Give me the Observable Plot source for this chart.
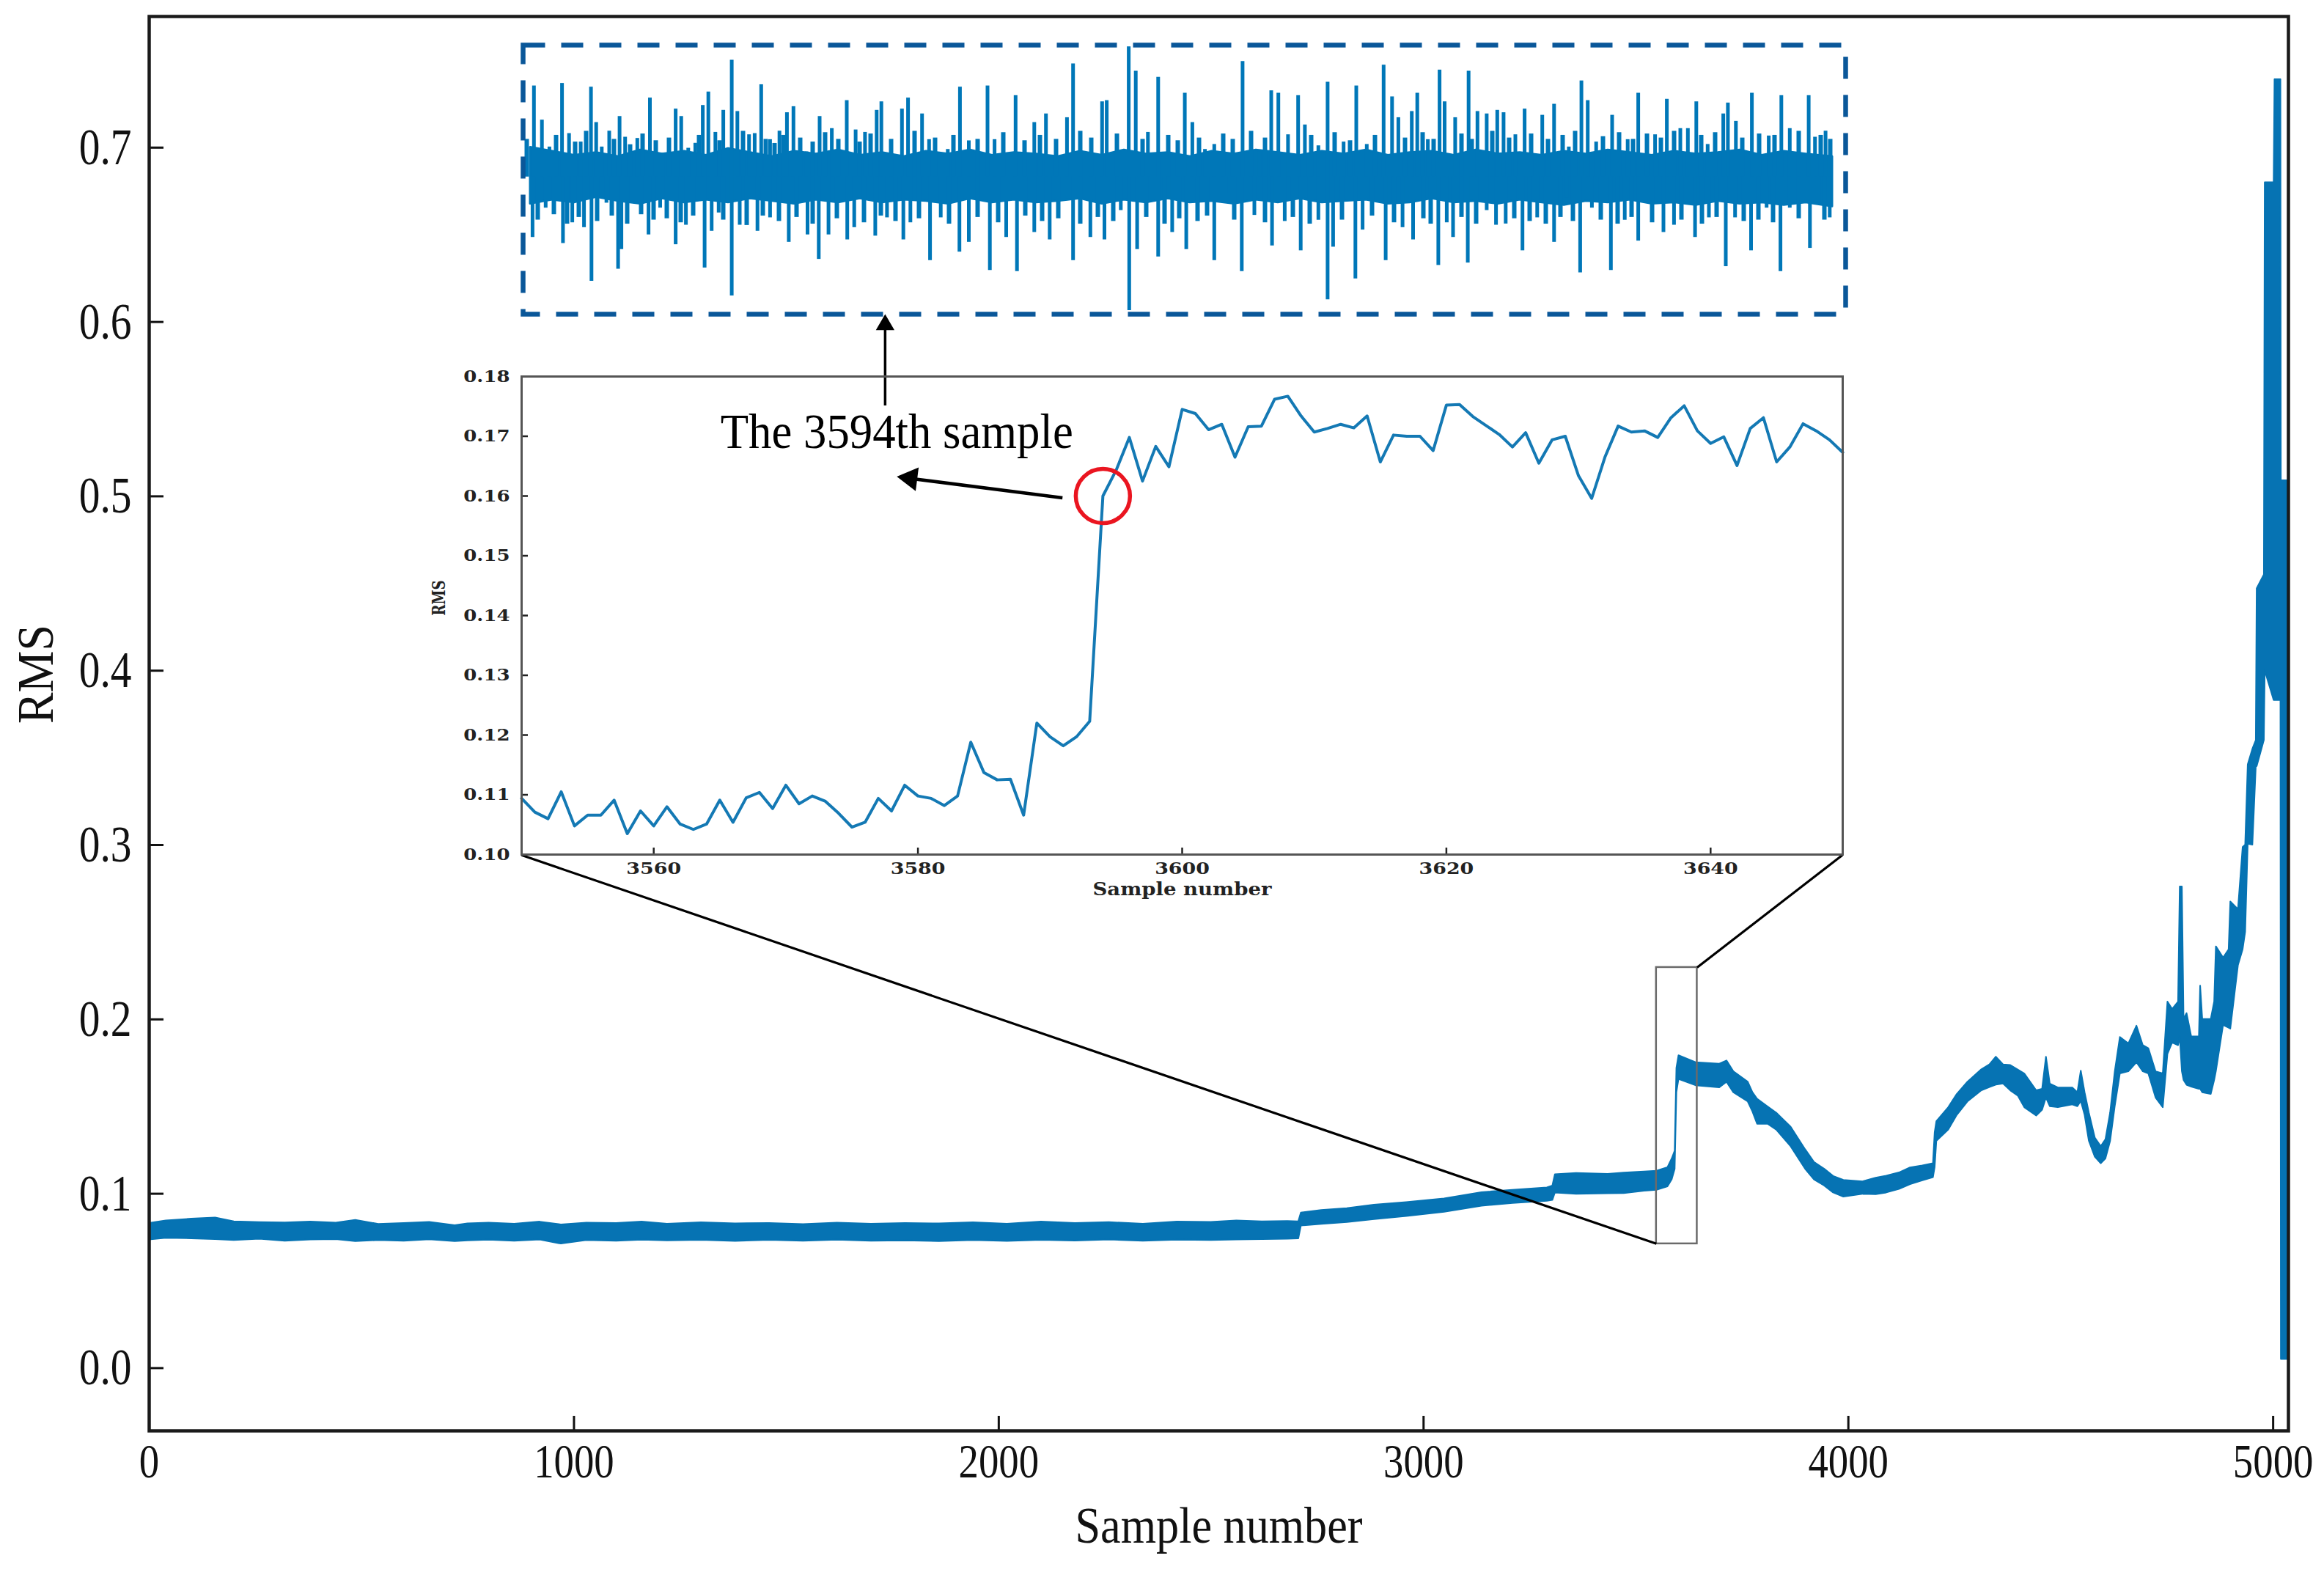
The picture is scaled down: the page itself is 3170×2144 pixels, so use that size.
<!DOCTYPE html>
<html><head><meta charset="utf-8">
<script src="https://cdn.jsdelivr.net/npm/d3@7"></script>
<script src="https://cdn.jsdelivr.net/npm/@observablehq/plot@0.6"></script>
<style>
html,body{margin:0;padding:0;background:#fff;}
#wrap{position:relative;width:3170px;height:2144px;overflow:hidden;background:#fff;}
</style></head><body><div id="wrap"></div>
<script>
// ---------------- DATA ----------------
// Main RMS curve: sample number, lower and upper edge of the plotted (noisy) trace
const sampleNo = [0,40,100,156,200,260,320,380,440,486,540,600,660,720,750,800,860,920,970,1030,1100,1160,1220,1300,1380,1460,1540,1620,1700,1780,1860,1940,2020,2100,2180,2260,2340,2420,2500,2560,2620,2680,2706,
 2712,2760,2820,2884,2960,3049,3137,3210,3291,3304,3310,3360,3434,3472,3520,3549,3575,3585,3592,3596,3601,3641,3697,3714,3730,3764,3775,3786,3810,3831,3865,3899,3920,3944,3965,3989,4034,4065,4090,4120,4146,4175,4200,4204,4208,4236,4256,4281,4314,4333,4348,4365,4382,4400,4415,4443,4457,4466,4475,4494,4528,4540,4548,4557,4567,4581,4595,4606,4617,4628,4640,4660,4679,4694,4707,4724,4741,4752,4763,4777,4781,4786,4790,4797,4808,4826,4829,4834,4854,4862,4866,4883,4896,4900,4918,4929,4935,4941,4952,4960,4962,4979,4981,5002,5004,5018,5019,5033];
const rmsLo = [0.0735,0.0745,0.0742,0.0738,0.0732,0.0740,0.0728,0.0735,0.0738,0.0726,0.0732,0.0728,0.0736,0.0726,0.0730,0.0734,0.0728,0.0735,0.0712,0.0732,0.0728,0.0734,0.0730,0.0733,0.0727,0.0733,0.0728,0.0734,0.0728,0.0730,0.0726,0.0732,0.0727,0.0733,0.0729,0.0735,0.0728,0.0734,0.0732,0.0735,0.0738,0.0740,0.0742,
 0.0815,0.0825,0.0835,0.0852,0.0870,0.0894,0.0929,0.0945,0.0957,0.0962,0.1005,0.0997,0.1000,0.1001,0.1015,0.1020,0.1040,0.1080,0.1140,0.1580,0.1656,0.1620,0.1608,0.1640,0.1580,0.1527,0.1470,0.1399,0.1400,0.1366,0.1270,0.1141,0.1080,0.1045,0.1005,0.0981,0.0997,0.0995,0.1005,0.1025,0.1053,0.1075,0.1093,0.1150,0.1301,0.1366,0.1450,0.1527,0.1591,0.1610,0.1624,0.1630,0.1591,0.1560,0.1494,0.1446,0.1480,0.1550,0.1500,0.1494,0.1510,0.1500,0.1530,0.1450,0.1301,0.1210,0.1173,0.1200,0.1300,0.1500,0.1688,0.1700,0.1752,0.1700,0.1688,0.1550,0.1494,0.1800,0.1865,0.1850,0.1900,0.1700,0.1650,0.1623,0.1612,0.1600,0.1600,0.1580,0.1570,0.1650,0.1700,0.1966,0.1950,0.1945,0.2309,0.2400,0.2500,0.3005,0.3000,0.3450,0.3450,0.3600,0.4000,0.3830,0.3830,0.3830,0.0050,0.0050];
const rmsHi = [0.0830,0.0845,0.0855,0.0862,0.0840,0.0835,0.0833,0.0838,0.0832,0.0848,0.0825,0.0830,0.0836,0.0818,0.0828,0.0832,0.0826,0.0838,0.0822,0.0832,0.0830,0.0838,0.0826,0.0834,0.0828,0.0830,0.0824,0.0832,0.0826,0.0830,0.0828,0.0834,0.0826,0.0838,0.0830,0.0835,0.0826,0.0838,0.0836,0.0845,0.0840,0.0842,0.0840,
 0.0890,0.0905,0.0915,0.0935,0.0950,0.0971,0.1007,0.1020,0.1034,0.1045,0.1110,0.1117,0.1112,0.1119,0.1125,0.1130,0.1150,0.1200,0.1245,0.1720,0.1792,0.1752,0.1744,0.1762,0.1700,0.1640,0.1580,0.1543,0.1500,0.1463,0.1382,0.1253,0.1180,0.1141,0.1100,0.1077,0.1069,0.1090,0.1101,0.1120,0.1149,0.1160,0.1173,0.1350,0.1414,0.1494,0.1570,0.1640,0.1712,0.1740,0.1784,0.1740,0.1736,0.1710,0.1688,0.1591,0.1600,0.1784,0.1630,0.1607,0.1607,0.1580,0.1704,0.1580,0.1463,0.1320,0.1270,0.1310,0.1463,0.1700,0.1897,0.1860,0.1962,0.1850,0.1833,0.1700,0.1688,0.2100,0.2058,0.2100,0.2760,0.2760,0.2000,0.2034,0.1900,0.1900,0.2192,0.2000,0.2000,0.2100,0.2417,0.2352,0.2400,0.2674,0.2630,0.2986,0.3000,0.3460,0.3550,0.3600,0.4470,0.4550,0.6800,0.6800,0.7390,0.7390,0.5090,0.5090];

const xTicks = [0,1000,2000,3000,4000,5000];
const yTicks = [0.0,0.1,0.2,0.3,0.4,0.5,0.6,0.7];

// Inset: samples 3550..3650
const insetSample = d3.range(3550, 3651);
const insetRms = [0.1094,0.1071,0.1060,0.1105,0.1048,0.1066,0.1066,0.1091,0.1035,0.1073,
 0.1048,0.1080,0.1051,0.1042,0.1051,0.1091,0.1054,0.1095,0.1104,0.1077,
 0.1116,0.1085,0.1098,0.1089,0.1069,0.1046,0.1054,0.1094,0.1073,0.1116,
 0.1098,0.1094,0.1082,0.1098,0.1188,0.1137,0.1125,0.1126,0.1066,0.1220,
 0.1197,0.1182,0.1197,0.1223,0.1600,0.1643,0.1698,0.1625,0.1683,0.1649,
 0.1745,0.1738,0.1711,0.1720,0.1665,0.1716,0.1717,0.1762,0.1767,0.1734,
 0.1707,0.1713,0.1720,0.1714,0.1734,0.1657,0.1702,0.1700,0.1700,0.1676,
 0.1752,0.1753,0.1733,0.1718,0.1703,0.1682,0.1706,0.1655,0.1694,0.1700,
 0.1634,0.1596,0.1665,0.1717,0.1707,0.1709,0.1698,0.1731,0.1751,0.1709,
 0.1688,0.1699,0.1651,0.1713,0.1731,0.1657,0.1682,0.1721,0.1709,0.1694,0.1673];
const insetXTicks = [3560,3580,3600,3620,3640];
const insetYTicks = [0.10,0.11,0.12,0.13,0.14,0.15,0.16,0.17,0.18];

// Raw vibration snippet (dashed box): time index and amplitude of the large spikes
const sigUpT = [14.8,25.7,35.9,53.1,62.7,78.6,92.6,99.7,107.3,117.5,131.6,139.2,155.8,173.0,190.2,208.1,215.7,225.3,234.9,245.1,252.7,262.3,273.1,284.6,292.3,308.2,315.9,324.8,336.9,349.7,359.9,368.8,386.7,404.5,421.1,441.5,453.6,466.4,482.3,488.7,516.8,525.1,544.2,553.8,579.3,595.9,608.0,633.5,643.1,671.8,697.3,713.2,741.9,750.2,789.8,796.1,826.1,835.7,852.3,866.3,902.6,912.9,930.1,942.8,
 981.4,1004.4,1020.5,1030.2,1043.4,1057.2,1066.4,1084.8,1097.4,1119.2,1136.5,1150.8,1173.8,1185.3,1193.9,1212.2,1219.7,1234.1,1250.1,1257.0,1271.4,1289.7,1301.8,1314.4,1328.8,1337.4,1353.5,1366.1,1390.2,1406.3,1426.4,1443.6,1452.2,1463.7,1485.5,1506.7,1521.1,1544.1,1560.1,1578.5,1588.8,1600.3,1615.8,1637.1,1643.4,1654.3,1676.1,1699.1,1716.3,1727.8,1753.6,1762.2,1776.6];
const sigUpA = [0.697,0.443,0.243,0.716,0.343,0.280,0.688,0.425,0.243,0.361,0.470,0.316,0.307,0.607,0.198,0.525,0.470,0.234,0.271,0.552,0.652,0.352,0.516,0.888,0.507,0.334,0.343,0.706,0.298,0.361,0.498,0.543,0.207,0.470,0.380,0.588,0.370,0.352,0.516,0.579,0.525,0.607,0.489,0.298,0.225,0.688,0.289,0.697,0.298,0.625,0.425,0.489,0.461,0.861,0.579,0.588,0.988,0.806,0.352,0.761,0.643,0.425,0.225,0.262,
 0.879,0.207,0.661,0.643,0.334,0.625,0.407,0.252,0.725,0.280,0.697,0.262,0.852,0.616,0.461,0.507,0.643,0.298,0.815,0.579,0.461,0.806,0.507,0.489,0.516,0.498,0.334,0.525,0.479,0.561,0.243,0.734,0.588,0.280,0.479,0.298,0.643,0.334,0.598,0.380,0.380,0.579,0.262,0.489,0.570,0.434,0.643,0.325,0.625,0.380,0.625,0.316,0.361];
const sigDnT = [12.9,30.8,54.4,67.1,83.1,93.3,113.7,129.6,134.1,152.0,171.1,187.0,208.1,222.1,247.6,257.2,266.8,284.6,295.5,319.7,336.9,362.4,388.0,403.3,416.6,442.2,451.7,480.4,496.4,518.7,528.3,555.1,569.7,595.2,608.0,636.7,659.0,673.7,697.3,718.3,750.2,773.8,793.0,815.3,826.8,837.6,866.3,885.4,904.6,942.8,
 958.5,980.3,997.5,1021.6,1038.9,1060.7,1084.8,1097.4,1104.9,1135.3,1145.1,1176.6,1199.6,1214.0,1248.4,1259.9,1268.5,1288.6,1314.4,1327.1,1340.3,1363.2,1383.3,1406.3,1423.5,1441.9,1457.9,1483.8,1502.7,1521.1,1555.5,1569.9,1598.6,1617.5,1640.5,1653.2,1675.0,1696.2,1715.1,1727.8,1755.3,1767.9,1782.3];
const sigDnA = [-0.429,-0.211,-0.474,-0.320,-0.356,-0.755,-0.174,-0.665,-0.519,-0.156,-0.410,-0.211,-0.483,-0.338,-0.656,-0.383,-0.247,-0.864,-0.338,-0.383,-0.283,-0.465,-0.410,-0.592,-0.410,-0.447,-0.356,-0.419,-0.283,-0.447,-0.320,-0.601,-0.283,-0.538,-0.465,-0.674,-0.429,-0.683,-0.392,-0.447,-0.601,-0.429,-0.447,-0.229,-0.973,-0.519,-0.574,-0.392,-0.519,-0.601,
 -0.102,-0.683,-0.265,-0.492,-0.310,-0.528,-0.301,-0.892,-0.501,-0.737,-0.374,-0.601,-0.356,-0.447,-0.637,-0.320,-0.429,-0.619,-0.229,-0.338,-0.329,-0.528,-0.283,-0.465,-0.138,-0.692,-0.211,-0.674,-0.301,-0.456,-0.392,-0.338,-0.429,-0.283,-0.646,-0.283,-0.528,-0.211,-0.683,-0.211,-0.510,-0.174,-0.283];
// smaller oscillation peaks ("hair" around the dense core)
const hairUpT = [5,45,71,86,124,146,163,181,199,240,268,300,331,343,355,378,395,412,430,459,474,502,534,562,587,620,655,684,705,727,760,775,810,845,880,893,922,955,968,993,1012,1075,1107,1128,1162,1203,1227,1242,1280,1294,1322,1345,1375,1398,1418,1435,1473,1495,1514,1533,1552,1570,1607,1626,1663,1686,1707,1740,1770,1783];
const hairUpA = [0.30,0.33,0.28,0.36,0.30,0.26,0.34,0.29,0.31,0.33,0.29,0.36,0.30,0.27,0.33,0.31,0.28,0.35,0.30,0.28,0.34,0.30,0.36,0.31,0.33,0.30,0.35,0.29,0.33,0.30,0.36,0.31,0.34,0.30,0.33,0.29,0.31,0.34,0.30,0.36,0.31,0.33,0.35,0.29,0.33,0.31,0.35,0.30,0.34,0.30,0.36,0.31,0.34,0.30,0.33,0.36,0.32,0.35,0.30,0.34,0.31,0.36,0.33,0.35,0.31,0.34,0.33,0.36,0.33,0.30];
const hairDnT = [20,42,60,76,101,121,142,161,178,196,215,232,273,305,327,349,373,395,428,465,488,508,540,581,620,648,685,708,730,760,784,805,850,875,895,920,933,970,1012,1050,1073,1117,1158,1188,1228,1238,1280,1300,1352,1373,1395,1415,1432,1470,1493,1512,1540,1580,1608,1628,1665,1685,1705,1740,1775];
const hairDnA = [-0.30,-0.26,-0.33,-0.28,-0.31,-0.27,-0.33,-0.26,-0.30,-0.29,-0.32,-0.27,-0.30,-0.34,-0.27,-0.31,-0.28,-0.33,-0.29,-0.32,-0.27,-0.31,-0.29,-0.33,-0.28,-0.32,-0.27,-0.31,-0.29,-0.33,-0.28,-0.31,-0.28,-0.33,-0.29,-0.31,-0.27,-0.30,-0.32,-0.28,-0.33,-0.30,-0.27,-0.32,-0.29,-0.33,-0.28,-0.33,-0.29,-0.31,-0.33,-0.28,-0.31,-0.30,-0.33,-0.28,-0.32,-0.30,-0.33,-0.28,-0.31,-0.30,-0.32,-0.29,-0.30];
// dense core of the vibration signal (upper / lower edge of the solid band)
const coreT  = [10,40,70,100,130,160,190,220,250,280,310,340,370,400,430,460,490,520,550,580,610,640,670,700,730,760,790,820,850,880,910,940,970,1000,1030,1060,1090,1120,1150,1180,1210,1240,1270,1300,1330,1360,1390,1420,1450,1480,1510,1540,1570,1600,1630,1660,1690,1720,1750,1786];
const coreHi = [0.24,0.21,0.18,0.20,0.17,0.22,0.19,0.21,0.18,0.23,0.20,0.17,0.21,0.19,0.22,0.18,0.20,0.17,0.21,0.19,0.22,0.18,0.20,0.19,0.17,0.21,0.18,0.22,0.19,0.20,0.17,0.21,0.19,0.22,0.20,0.18,0.21,0.19,0.22,0.18,0.20,0.21,0.18,0.22,0.19,0.20,0.18,0.21,0.19,0.22,0.20,0.18,0.21,0.19,0.20,0.22,0.18,0.21,0.19,0.17];
const coreLo = [-0.18,-0.15,-0.17,-0.13,-0.16,-0.18,-0.14,-0.17,-0.15,-0.17,-0.14,-0.16,-0.18,-0.15,-0.17,-0.14,-0.17,-0.15,-0.16,-0.18,-0.14,-0.17,-0.15,-0.17,-0.16,-0.14,-0.18,-0.15,-0.17,-0.14,-0.17,-0.16,-0.18,-0.15,-0.17,-0.14,-0.17,-0.16,-0.15,-0.18,-0.17,-0.14,-0.17,-0.16,-0.18,-0.15,-0.17,-0.19,-0.16,-0.17,-0.15,-0.18,-0.17,-0.19,-0.16,-0.18,-0.17,-0.19,-0.17,-0.20];
const coreMid = 0.02;

// Annotation anchors (main-chart data coordinates)
const zoomBox = {x1: 3548, x2: 3644, y1: 0.0713, y2: 0.2298};
const connectors = [
  {x1: 876.6, y1: 0.2942, x2: 3548, y2: 0.0713},
  {x1: 3986, y1: 0.2942, x2: 3644, y2: 0.2298}
];
const arrowUp = {x: 1732.5, y1: 0.5519, y2: 0.596, tipY: 0.6045};
const arrowLeft = {x1: 2150, y1: 0.4991, x2: 1794, y2: 0.5102, tipX: 1760, tipY: 0.5113};
const label3594 = {text: "The 3594th sample", x: 1760, y: 0.5368};
const changePoint = {x: 3594, y: 0.160};

// ---------------- DRAW ----------------
const BLUE = "#0673b3";
const wrap = document.getElementById("wrap");
const mainData = sampleNo.map((s, i) => ({s, lo: rmsLo[i], hi: rmsHi[i]}));

const main = Plot.plot({
  width: 3170, height: 2144,
  marginLeft: 203, marginRight: 49, marginTop: 22, marginBottom: 193,
  x: {domain: [0, 5036]},
  y: {domain: [-0.036, 0.7752]},
  style: {fontFamily: "'Liberation Serif', 'Times New Roman', serif", fontSize: "70px", color: "#111", background: "white"},
  marks: [
    Plot.areaY(mainData, {x: "s", y1: "lo", y2: "hi", fill: BLUE, stroke: BLUE, strokeWidth: 2}),
    Plot.rect([zoomBox], {x1: "x1", x2: "x2", y1: "y1", y2: "y2", fill: "none", stroke: "#6a6a6a", strokeWidth: 2.5}),
    Plot.link(connectors, {x1: "x1", y1: "y1", x2: "x2", y2: "y2", stroke: "#000", strokeWidth: 3.2}),
    Plot.ruleX([arrowUp], {x: "x", y1: "y1", y2: "y2", stroke: "#000", strokeWidth: 3.5}),
    Plot.dot([arrowUp], {x: "x", y: "tipY", symbol: "triangle", r: 9.4, fill: "#000", dy: 14.6}),
    Plot.link([arrowLeft], {x1: "x1", y1: "y1", x2: "x2", y2: "y2", stroke: "#000", strokeWidth: 4.5}),
    Plot.dot([arrowLeft], {x: "tipX", y: "tipY", symbol: "triangle", r: 12, rotate: -82.7, fill: "#000", dx: 18.5, dy: 2.4}),
    Plot.text([label3594], {x: "x", y: "y", text: "text", fontSize: 68, fill: "#000", textAnchor: "middle"}),
    Plot.axisX(xTicks, {tickSize: -20, tickPadding: 37, tickFormat: d3.format("d"), label: null, strokeWidth: 3, fill: "#111", fontSize: 66}),
    Plot.axisY(yTicks, {tickSize: -20, tickPadding: 44, tickFormat: d3.format(".1f"), label: null, strokeWidth: 3, fill: "#111"}),
    Plot.frame({stroke: "#1a1a1a", strokeWidth: 4.5}),
    Plot.text(["Sample number"], {frameAnchor: "bottom", lineAnchor: "bottom", dy: 152, fontSize: 70, fill: "#111"}),
    Plot.text(["RMS"], {frameAnchor: "left", lineAnchor: "bottom", rotate: -90, dx: -132, fontSize: 70, fill: "#111"})
  ]
});
main.style.position = "absolute"; main.style.left = "0px"; main.style.top = "0px";
wrap.appendChild(main);

const insetData = insetSample.map((s, i) => ({s, v: insetRms[i]}));
const inset = Plot.plot({
  width: 1972, height: 742,
  marginLeft: 150, marginRight: 20, marginTop: 20, marginBottom: 70,
  x: {domain: [3550, 3650]},
  y: {domain: [0.10, 0.18]},
  style: {fontFamily: "'DejaVu Serif', serif", fontSize: "22px", fontWeight: "bold", color: "#222", background: "transparent"},
  marks: [
    Plot.line(insetData, {x: "s", y: "v", stroke: "#1479b4", strokeWidth: 4}),
    Plot.dot([changePoint], {x: "x", y: "y", r: 37, fill: "none", stroke: "#ea1520", strokeWidth: 5.5}),
    Plot.axisX(insetXTicks, {tickSize: -9, tickPadding: 20, tickFormat: d3.format("d"), label: null, strokeWidth: 2.5, fill: "#222"}),
    Plot.axisY(insetYTicks, {tickSize: -9, tickPadding: 25, tickFormat: d3.format(".2f"), label: null, strokeWidth: 2.5, fill: "#222"}),
    Plot.frame({stroke: "#555", strokeWidth: 3}),
    Plot.text(["Sample number"], {frameAnchor: "bottom", lineAnchor: "bottom", dy: 55, fontSize: 24, fill: "#222"}),
    Plot.text(["RMS"], {frameAnchor: "left", lineAnchor: "bottom", rotate: -90, dx: -105, fontSize: 24, fill: "#222"})
  ]
});
inset.style.position = "absolute"; inset.style.left = "561px"; inset.style.top = "493px";
wrap.appendChild(inset);

const SIG = "#0077b8";
const coreData = coreT.map((t, i) => ({t, lo: coreLo[i], hi: coreHi[i]}));
const upData = sigUpT.map((t, i) => ({t, a: sigUpA[i]}));
const dnData = sigDnT.map((t, i) => ({t, a: sigDnA[i]}));
const hairData = hairUpT.map((t, i) => ({t, a: hairUpA[i]})).concat(hairDnT.map((t, i) => ({t, a: hairDnA[i]})));
const sig = Plot.plot({
  width: 1816, height: 379, margin: 6,
  x: {domain: [0, 1804], axis: null},
  y: {domain: [-1, 1], axis: null},
  style: {background: "transparent"},
  marks: [
    Plot.areaY(coreData, {x: "t", y1: "lo", y2: "hi", fill: SIG, stroke: SIG, strokeWidth: 3}),
    Plot.ruleX(hairData, {x: "t", y1: coreMid, y2: "a", stroke: SIG, strokeWidth: 6}),
    Plot.ruleX(upData, {x: "t", y1: coreMid, y2: "a", stroke: SIG, strokeWidth: 5}),
    Plot.ruleX(dnData, {x: "t", y1: coreMid, y2: "a", stroke: SIG, strokeWidth: 5}),
    Plot.frame({stroke: "#0a5799", strokeWidth: 6.5, strokeDasharray: "30 22"})
  ]
});
sig.style.position = "absolute"; sig.style.left = "707px"; sig.style.top = "55px";
wrap.appendChild(sig);

// typographic fitting (condensed serif as in the original figure)
function fit(svg, selector, factor) {
  svg.querySelectorAll(selector).forEach(t => {
    const w = t.getComputedTextLength();
    t.setAttribute("textLength", (w * factor).toFixed(1));
    t.setAttribute("lengthAdjust", "spacingAndGlyphs");
  });
}
function fitText(svg, content, len) {
  svg.querySelectorAll("text").forEach(t => {
    if (t.textContent === content) { t.setAttribute("textLength", len); t.setAttribute("lengthAdjust", "spacingAndGlyphs"); }
  });
}
fit(main, 'g[aria-label="x-axis tick label"] text', 0.83);
fit(main, 'g[aria-label="y-axis tick label"] text', 0.82);
fitText(main, "Sample number", 392);
fitText(main, "RMS", 135);
fitText(main, "The 3594th sample", 481);
fit(inset, 'g[aria-label="x-axis tick label"] text', 1.22);
fit(inset, 'g[aria-label="y-axis tick label"] text', 1.18);
fitText(inset, "Sample number", 244);
fitText(inset, "RMS", 48);
</script></body></html>
